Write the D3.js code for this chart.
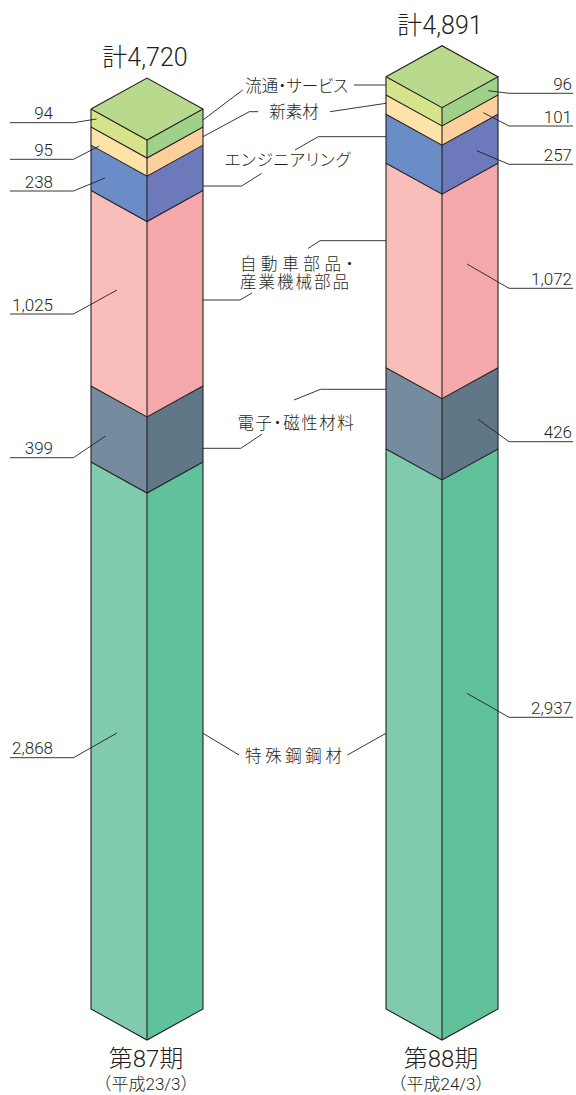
<!DOCTYPE html>
<html>
<head>
<meta charset="utf-8">
<script src="https://cdn.jsdelivr.net/npm/d3@7"></script>
<style>
  body { margin: 0; background: #fff; }
  svg text { font-family: "Roboto", "Liberation Sans", "Noto Sans CJK JP", sans-serif; font-weight: 300; fill: #231f20; }
  .cat { font-family: "Noto Sans CJK JP", sans-serif; font-feature-settings: "palt"; }
</style>
</head>
<body>
<svg id="chart" width="576" height="1095"></svg>
<script>
// segments listed bottom -> top
var categories = ['特殊鋼鋼材', '電子・磁性材料', '自動車部品・産業機械部品', 'エンジニアリング', '新素材', '流通・サービス'];
var periods = ['第87期', '第88期'];
var periodNotes = ['（平成23/3）', '（平成24/3）'];
var totals = [4720, 4891];
var values87 = [2868, 399, 1025, 238, 95, 94];
var values88 = [2937, 426, 1072, 257, 101, 96];

// face colours per segment: [left face, right face]
var faceColors = [
  ['#80cbae', '#5fc29b'],
  ['#758b9e', '#607788'],
  ['#f9beb9', '#f5a8ab'],
  ['#6a8cc7', '#6c79bb'],
  ['#fee3a8', '#fdd09b'],
  ['#d5e48b', '#a0d18a']
];
var topColor = '#b9d98c';

var svg = d3.select('#chart');

var baseY = 1009, pxPerUnit = 0.1907;
var y = d3.scaleLinear().domain([0, 5000]).range([baseY, baseY - 5000 * pxPerUnit]);
var x = d3.scaleBand().domain(periods).range([0, 590]).paddingInner(0).paddingOuter(0);
var halfW = 56, slant = 31;

function center(p) { return x(p) + x.bandwidth() / 2 - 0.5; }

var series = [values87, values88];

series.forEach(function(vals, k) {
	var cx = center(periods[k]);
	var stack = d3.cumsum(vals);
	var g = svg.append('g').attr('class', 'column');

	vals.forEach(function(v, i) {
		var y0 = y(i == 0 ? 0 : stack[i - 1]), y1 = y(stack[i]);
		g.append('path')
			.attr('d', d3.line()([[cx - halfW, y0], [cx, y0 + slant], [cx, y1 + slant], [cx - halfW, y1]]) + 'Z')
			.attr('fill', faceColors[i][0]);
		g.append('path')
			.attr('d', d3.line()([[cx, y0 + slant], [cx + halfW, y0], [cx + halfW, y1], [cx, y1 + slant]]) + 'Z')
			.attr('fill', faceColors[i][1]);
	});

	var yt = y(stack[stack.length - 1]);
	g.append('path')
		.attr('d', d3.line()([[cx - halfW, yt], [cx, yt - slant], [cx + halfW, yt], [cx, yt + slant]]) + 'Z')
		.attr('fill', topColor);

	// outlines
	var edges = g.append('g').attr('stroke', '#231f20').attr('stroke-width', 1.1).attr('fill', 'none');
	edges.append('path').attr('d', d3.line()([[cx - halfW, yt], [cx - halfW, baseY], [cx, baseY + slant], [cx + halfW, baseY], [cx + halfW, yt]]));
	edges.append('path').attr('d', d3.line()([[cx, yt + slant], [cx, baseY + slant]]));
	edges.append('path').attr('d', d3.line()([[cx - halfW, yt], [cx, yt - slant], [cx + halfW, yt], [cx, yt + slant], [cx - halfW, yt]]));
	stack.slice(0, -1).forEach(function(s) {
		var yy = y(s);
		edges.append('path').attr('d', d3.line()([[cx - halfW, yy], [cx, yy + slant], [cx + halfW, yy]]));
	});

	// total above
	svg.append('text')
		.attr('x', cx - 2)
		.attr('y', yt - slant - 12)
		.attr('text-anchor', 'middle')
		.style('font-size', '25px')
		.text('計' + d3.format(',')(totals[k]));

	// period labels
	svg.append('text')
		.attr('x', cx - 1)
		.attr('y', 1067)
		.attr('text-anchor', 'middle')
		.style('font-size', '24px')
		.text(periods[k]);
	svg.append('text')
		.attr('x', cx - 1)
		.attr('y', 1090)
		.attr('text-anchor', 'middle')
		.style('font-size', '17px')
		.text(periodNotes[k]);
});

// value labels: leader line y and anchor inside the face
var valueLabelLayout = [
	{ lineY: [757.7, 457.7, 314, 191, 159.3, 122.7],
	  anchor: [[117, 733], [105.5, 436], [117, 290], [105, 178], [99.3, 146], [96.5, 119]],
	  bendX: 73.5, endX: 10, textX: 53, anchor_: 'end' },
	{ lineY: [717.3, 441.7, 288.3, 164.3, 126, 93.3],
	  anchor: [[467, 693.3], [478, 419.3], [467, 264], [476.7, 150.7], [483.3, 112.7], [488.3, 90.7]],
	  bendX: 509, endX: 573, textX: 572, anchor_: 'end' }
];

var leaders = svg.append('g').attr('stroke', '#231f20').attr('stroke-width', 0.9).attr('fill', 'none');

series.forEach(function(vals, k) {
	var L = valueLabelLayout[k];
	vals.forEach(function(v, i) {
		leaders.append('path')
			.attr('d', d3.line()([L.anchor[i], [L.bendX, L.lineY[i]], [L.endX, L.lineY[i]]]));
		svg.append('text')
			.attr('x', L.textX)
			.attr('y', L.lineY[i] - 3.5)
			.attr('text-anchor', L.anchor_)
			.style('font-size', '17px')
			.text(d3.format(',')(v));
	});
});

// category labels between the columns
var categoryLayout = [
	{ lines: ['特殊鋼鋼材'], cx: 293.5, y0: 761.5, ls: 3.6,
	  left: [[203, 733.3], [239, 755]], right: [[347.4, 755], [386, 733.3]] },
	{ lines: ['電子・磁性材料'], cx: 295.5, y0: 429, ls: 1.5,
	  left: [[203, 448.3], [240.8, 448.3], [261.8, 434.3]], right: [[294, 400], [320.6, 389.3], [386, 389.3]] },
	{ lines: ['自動車部品・', '産業機械部品'], sx: 240, y0: 270, dy: 18, ls: [4.6, 2],
	  left: [[203, 300], [240, 300], [252, 293]], right: [[308, 248.5], [320, 240.7], [386, 240.7]] },
	{ lines: ['エンジニアリング'], cx: 287.5, y0: 166, ls: 0.8,
	  left: [[203, 186], [241.7, 186], [261.7, 173.3]], right: [[295, 150], [318.3, 136.7], [386, 136.7]] },
	{ lines: ['新素材'], cx: 294, y0: 117.7, ls: 0,
	  left: [[203, 136.7], [249.3, 111.7], [258.3, 111.7]], right: [[330, 111.7], [386, 103.3]] },
	{ lines: ['流通・サービス'], cx: 296.7, y0: 92, ls: 0,
	  left: [[203, 120], [242.7, 90]], right: [[354, 85], [386, 85]] }
];

categoryLayout.forEach(function(c, i) {
	leaders.append('path').attr('d', d3.line()(c.left));
	leaders.append('path').attr('d', d3.line()(c.right));

	// one text element per label, one tspan per line
	var txt = svg.append('text')
		.attr('class', 'cat')
		.style('font-size', '16.5px');

	c.lines.forEach(function(t, j) {
		var ls = Array.isArray(c.ls) ? c.ls[j] : c.ls;
		var span = txt.append('tspan')
			.attr('y', c.y0 + j * (c.dy || 0))
			.style('letter-spacing', ls + 'px')
			.text(t);
		if (c.sx != null) {
			span.attr('x', c.sx).attr('text-anchor', 'start');
		} else {
			span.attr('x', c.cx + ls / 2).attr('text-anchor', 'middle');
		}
	});
});
</script>
</body>
</html>
